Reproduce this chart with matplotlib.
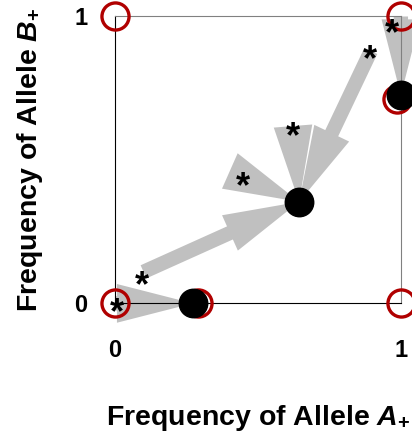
import numpy as np
import matplotlib.pyplot as plt
from matplotlib.patches import Polygon

plt.rcParams['font.family'] = 'Liberation Sans'
plt.rcParams['font.weight'] = 'bold'
plt.rcParams['mathtext.fontset'] = 'custom'
plt.rcParams['mathtext.rm'] = 'Liberation Sans:bold'
plt.rcParams['mathtext.it'] = 'Liberation Sans:italic:bold'
plt.rcParams['mathtext.bf'] = 'Liberation Sans:bold'

# stable equilibria (filled)
black_x = [0.272, 0.644, 1.0]
black_y = [0.0, 0.354, 0.725]

# corner / unstable equilibria (open red)
red_x = [0.0, 1.0, 0.0, 1.0, 0.29, 0.985]
red_y = [0.0, 0.0, 1.0, 1.0, 0.0, 0.714]

# starting points marked with asterisks
star_x = [0.006, 0.093, 0.448, 0.623, 0.892, 0.968]
star_y = [0.0, 0.093, 0.441, 0.615, 0.883, 0.973]

# trajectories: start -> end
arr_x0 = [0.0, 0.10, 0.448, 0.623, 0.895, 1.0]
arr_y0 = [0.0, 0.11, 0.441, 0.615, 0.88, 1.0]
arr_x1 = [0.272, 0.644, 0.644, 0.644, 0.644, 1.0]
arr_y1 = [0.0, 0.354, 0.354, 0.354, 0.354, 0.725]

ticks = [0, 1]
tick_labels = ['0', '1']

# arrow shape (data units)
shaft_w = 0.05
head_w = 0.135
head_l = 0.265


def arrow_poly(x0, y0, x1, y1):
    # head is always full size, shaft only if the arrow is longer than the head
    d = np.array([x1 - x0, y1 - y0])
    length = np.hypot(*d)
    u = d / length
    n = np.array([-u[1], u[0]])
    tip = np.array([x1, y1])
    base = tip - u * head_l
    if length <= head_l:
        pts = [tip, base + n * head_w / 2, base - n * head_w / 2]
    else:
        start = np.array([x0, y0])
        pts = [tip, base + n * head_w / 2, base + n * shaft_w / 2,
               start + n * shaft_w / 2, start - n * shaft_w / 2,
               base - n * shaft_w / 2, base - n * head_w / 2]
    return np.array(pts)


fig = plt.figure(figsize=(4.12, 4.34), dpi=100)
ax = fig.add_axes([0.279, 0.301, 0.694, 0.661])

for i in range(len(arr_x0)):
    p = arrow_poly(arr_x0[i], arr_y0[i], arr_x1[i], arr_y1[i])
    ax.add_patch(Polygon(p, closed=True, fc='#c0c0c0', ec='none', zorder=1,
                         clip_on=False))

ax.plot(red_x, red_y, 'o', ms=19.5, mfc='none', mec='#b00000', mew=2.4,
        clip_on=False, zorder=4)
ax.plot(black_x, black_y, 'o', ms=20.5, color='black', clip_on=False, zorder=5)

# asterisk glyph sits high in the em box, so shift it down onto the point
star_fs = 26
for i in range(len(star_x)):
    ax.annotate('*', (star_x[i], star_y[i]), xytext=(0, -0.55 * star_fs),
                textcoords='offset points', fontsize=star_fs, fontweight='bold',
                ha='center', va='baseline', zorder=6, annotation_clip=False)

ax.set_xlim(0, 1)
ax.set_ylim(0, 1)
ax.set_xticks(ticks)
ax.set_xticklabels(tick_labels)
ax.set_yticks(ticks)
ax.set_yticklabels(tick_labels)
ax.tick_params(length=0, labelsize=17)
ax.tick_params(axis='x', pad=26)
ax.tick_params(axis='y', pad=20)
for s in ['top', 'right']:
    ax.spines[s].set_color('#808080')
for s in ['left', 'bottom']:
    ax.spines[s].set_color('black')

ax.set_xlabel(r'Frequency of Allele $A_{+}$', fontsize=20.5, fontweight='bold', labelpad=29)
ax.set_ylabel(r'Frequency of Allele $B_{+}$', fontsize=20.5, fontweight='bold', labelpad=21)

fig.savefig('out.png')
